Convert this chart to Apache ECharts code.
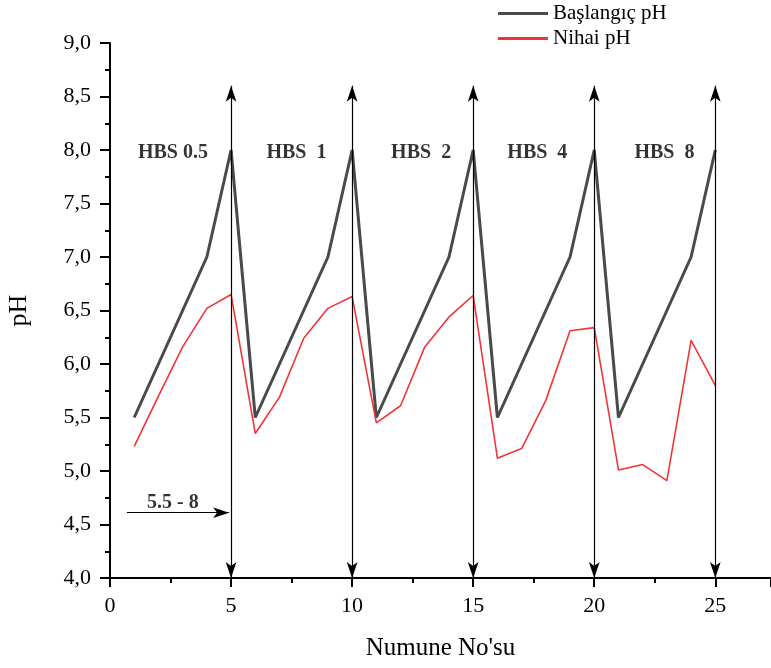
<!DOCTYPE html>
<html>
<head>
<meta charset="utf-8">
<script src="https://cdn.jsdelivr.net/npm/echarts@6/dist/echarts.min.js"></script>
<style>
  html, body { margin:0; padding:0; background:#fff; }
  #chart { width:771px; height:668px; }
</style>
</head>
<body>
<div id="chart"></div>
<script>
const samples = [1,2,3,4,5,6,7,8,9,10,11,12,13,14,15,16,17,18,19,20,21,22,23,24,25];
const startPH = [5.5,6.0,6.5,7.0,8.0, 5.5,6.0,6.5,7.0,8.0, 5.5,6.0,6.5,7.0,8.0, 5.5,6.0,6.5,7.0,8.0, 5.5,6.0,6.5,7.0,8.0];
const finalPH = [5.23,5.70,6.16,6.52,6.65, 5.35,5.69,6.24,6.52,6.63, 5.45,5.61,6.16,6.44,6.64, 5.12,5.21,5.66,6.31,6.34, 5.01,5.06,4.91,6.22,5.80];
const groupEdges = [5,10,15,20,25];
const groupNames = ['HBS 0.5','HBS  1','HBS  2','HBS  4','HBS  8'];
const groupLabelX = [2.6,7.7,12.85,17.65,22.9];
const groupLabelY = 7.97;
const arrowTop = 8.6;
const rangeText = '5.5 - 8';

const FONT = '"Liberation Serif", "DejaVu Serif", serif';
const chart = echarts.init(document.getElementById('chart'));

const vArrows = groupEdges.map(x => [{ coord:[x, 4.0] }, { coord:[x, arrowTop] }]);
const hArrow = [[{ coord:[0.7, 4.61], symbol:'none' }, { coord:[4.92, 4.61], symbol:'arrow' }]];

chart.setOption({
    backgroundColor:'#fff',
    animation:false,
    grid:{ left:110, right:0, top:43, bottom:90, outerBoundsMode:'none' },
    legend:{
        orient:'vertical', left:493, top:-2, itemGap:4,
        itemWidth:50, itemHeight:3, icon:'rect',
        textStyle:{ fontFamily:FONT, fontSize:21, color:'#000' },
        data:['Başlangıç pH','Nihai pH']
    },
    xAxis:{
        type:'value', min:0, max:27.3, interval:5,
        name:'Numune No\'su', nameLocation:'middle', nameGap:58,
        nameTextStyle:{ fontFamily:FONT, fontSize:25, color:'#000' },
        axisLine:{ onZero:false, lineStyle:{ color:'#000', width:2 } },
        axisTick:{ show:true, length:9, lineStyle:{ color:'#000', width:2 } },
        minorTick:{ show:true, splitNumber:2, length:5, lineStyle:{ color:'#000', width:2 } },
        axisLabel:{ fontFamily:FONT, fontSize:22, color:'#000', margin:17, showMaxLabel:false },
        splitLine:{ show:false }
    },
    yAxis:{
        type:'value', min:4, max:9, interval:0.5,
        name:'pH', nameLocation:'middle', nameGap:78, nameRotate:90,
        nameTextStyle:{ fontFamily:FONT, fontSize:26, color:'#000' },
        axisLine:{ show:true, lineStyle:{ color:'#000', width:2 } },
        axisTick:{ show:true, length:10, lineStyle:{ color:'#000', width:2 } },
        minorTick:{ show:true, splitNumber:2, length:5, lineStyle:{ color:'#000', width:2 } },
        axisLabel:{ fontFamily:FONT, fontSize:22, color:'#000', margin:19,
            formatter: v => v.toFixed(1).replace('.', ',') },
        splitLine:{ show:false }
    },
    series:[
        {
            name:'Başlangıç pH', type:'line', symbol:'none', z:3,
            lineStyle:{ color:'#4a4a4a', width:3 }, itemStyle:{ color:'#4a4a4a' },
            data: samples.map((x,i) => [x, startPH[i]])
        },
        {
            name:'Nihai pH', type:'line', symbol:'none', z:4,
            lineStyle:{ color:'#f2343a', width:1.6 }, itemStyle:{ color:'#f2343a' },
            data: samples.map((x,i) => [x, finalPH[i]]),
            markLine:{
                silent:true, symbol:['arrow','arrow'], symbolSize:[8,16],
                label:{ show:false },
                lineStyle:{ color:'#000', width:1.2, type:'solid' },
                emphasis:{ disabled:true },
                data: vArrows.concat(hArrow)
            }
        },
        {
            type:'scatter', symbolSize:0, silent:true, z:5,
            itemStyle:{ color:'#000' },
            label:{ show:true, position:'inside', formatter: p => p.name,
                fontFamily:FONT, fontSize:20, fontWeight:'bold', color:'#000', textBorderWidth:0 },
            data: groupNames.map((n,i) => ({ name:n, value:[groupLabelX[i], groupLabelY] }))
                .concat([{ name:rangeText, value:[2.6, 4.70] }])
        }
    ]
});
</script>
</body>
</html>
